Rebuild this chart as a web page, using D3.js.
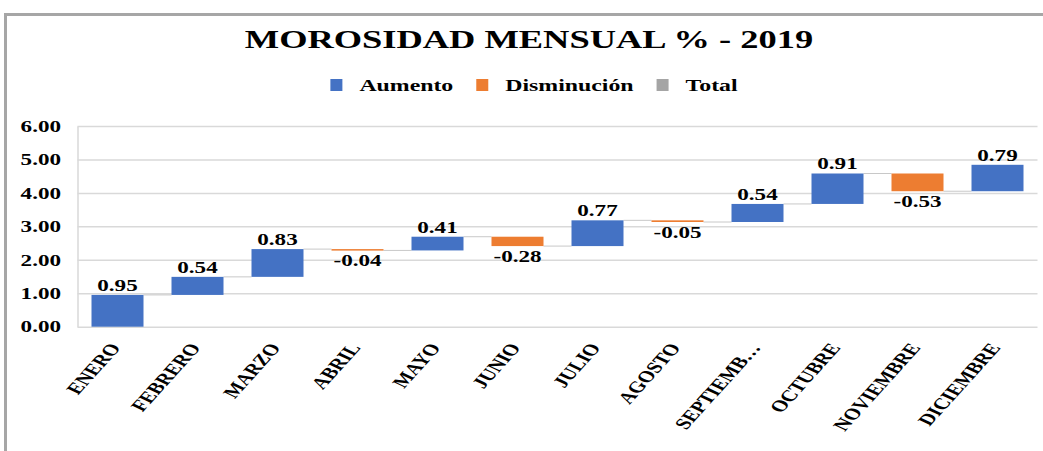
<!DOCTYPE html>
<html>
<head>
<meta charset="utf-8">
<script src="https://cdn.jsdelivr.net/npm/d3@7"></script>
<style>
  body { margin: 0; background: #fff; }
</style>
</head>
<body>
<div id="chart"></div>
<script>
// datos del grafico
var months = ['ENERO', 'FEBRERO', 'MARZO', 'ABRIL', 'MAYO', 'JUNIO', 'JULIO', 'AGOSTO', 'SEPTIEMB\u2026', 'OCTUBRE', 'NOVIEMBRE', 'DICIEMBRE'];
var changes = [0.95, 0.54, 0.83, -0.04, 0.41, -0.28, 0.77, -0.05, 0.54, 0.91, -0.53, 0.79];
var yTicks = [0, 1, 2, 3, 4, 5, 6];
var legendNames = ['Aumento', 'Disminución', 'Total'];
var legendColors = ['#4472C4', '#ED7D31', '#A5A5A5'];
var title = 'MOROSIDAD MENSUAL % - 2019';

var width = 1043;
var height = 451;
var font = '"Liberation Serif"';

// la imagen original esta estirada horizontalmente
var sx = 1.4;

// area del grafico (en pixeles de salida)
var plot = { left: 77.5, right: 1037.5, top: 126, bottom: 326.7 };

var fmt = function(v) {
  return d3.format('.2f')(v).replace('\u2212', '-');
};

// texto en negrita, estirado con textLength (sin transform)
function serif(sel, size) {
  sel
    .style('font-family', font)
    .style('font-weight', 'bold')
    .style('font-size', size + 'px')
    .style('fill', '#000');
  sel.each(function() {
    var w = this.getComputedTextLength();
    d3.select(this)
      .attr('textLength', w * sx)
      .attr('lengthAdjust', 'spacingAndGlyphs');
  });
  return sel;
}

// acumulado de la cascada
var running = 0;
var steps = changes.map(function(d, i) {
  var s = { month: months[i], start: running, end: running + d, value: d };
  running += d;
  return s;
});

var svg = d3.select('#chart').append('svg')
  .attr('width', width)
  .attr('height', height);

// borde
svg.append('path')
  .attr('d', 'M5.5,' + height + 'L5.5,14.5L' + width + ',14.5')
  .attr('fill', 'none')
  .attr('stroke', '#a6a6a6')
  .attr('stroke-width', 3);

var x = d3.scaleBand()
  .domain(months)
  .range([plot.left, plot.right])
  .paddingInner(0.35)
  .paddingOuter(0.175);

var y = d3.scaleLinear()
  .domain([0, 6])
  .range([plot.bottom, plot.top]);

var pw = plot.right - plot.left;

var base = svg.append('g').attr('transform', 'translate(' + plot.left + ',0)');

// eje y + grilla
var yaxis = d3.axisLeft(y)
  .tickValues(yTicks)
  .tickSize(-pw)
  .tickSizeOuter(0)
  .tickPadding(16.5)
  .tickFormat(fmt);

var yg = base.append('g').call(yaxis);
yg.select('.domain').attr('stroke', '#d9d9d9').attr('stroke-width', 1.5);
yg.selectAll('.tick line').attr('stroke', '#d9d9d9').attr('stroke-width', 1.5);
serif(yg.selectAll('.tick text'), 16.5);

// conectores
svg.append('g').selectAll('line')
  .data(steps.slice(0, steps.length - 1))
  .enter()
  .append('line')
  .attr('x1', function(d) { return x(d.month) + x.bandwidth(); })
  .attr('x2', function(d, i) { return x(months[i + 1]); })
  .attr('y1', function(d) { return y(d.end); })
  .attr('y2', function(d) { return y(d.end); })
  .attr('stroke', '#c8c8c8')
  .attr('stroke-width', 1);

// barras
svg.append('g').selectAll('rect')
  .data(steps)
  .enter()
  .append('rect')
  .attr('x', function(d) { return x(d.month); })
  .attr('width', x.bandwidth())
  .attr('y', function(d) { return y(Math.max(d.start, d.end)); })
  .attr('height', function(d) { return Math.max(1.5, Math.abs(y(d.start) - y(d.end))); })
  .attr('fill', function(d) { return d.value >= 0 ? legendColors[0] : legendColors[1]; });

// etiquetas de datos
var labels = svg.append('g').selectAll('text')
  .data(steps)
  .enter()
  .append('text')
  .attr('x', function(d) { return x(d.month) + x.bandwidth() / 2; })
  .attr('y', function(d) { return d.value >= 0 ? y(d.end) - 4 : y(d.end) + 16; })
  .attr('text-anchor', 'middle')
  .text(function(d) { return fmt(d.value); });
serif(labels, 16.5);

// eje x (etiquetas giradas y estiradas)
var xaxis = d3.axisBottom(x).tickSize(0).tickPadding(0);
var xg = svg.append('g')
  .attr('transform', 'translate(0,' + plot.bottom + ')')
  .call(xaxis);
xg.select('.domain').remove();
xg.selectAll('.tick text')
  .attr('text-anchor', 'end')
  .attr('y', 0)
  .attr('dy', 0)
  .style('font-family', font)
  .style('font-weight', 'bold')
  .style('font-size', '16px')
  .style('fill', '#000')
  .attr('transform', 'translate(4,21) matrix(' + [0.545 * sx, -0.839, 0.839 * sx, 0.545, 0, 0].join(',') + ')');

// titulo
var titleText = svg.append('text')
  .attr('x', 529)
  .attr('y', 47.5)
  .attr('text-anchor', 'middle')
  .text(title);
serif(titleText, 26);

// leyenda
var legend = svg.append('g');
var lx = 0;
legendNames.forEach(function(name, i) {
  var item = legend.append('g').attr('transform', 'translate(' + lx + ',0)');
  item.append('rect')
    .attr('x', 0)
    .attr('y', 79)
    .attr('width', 12)
    .attr('height', 12)
    .attr('fill', legendColors[i]);
  var t = item.append('text')
    .attr('x', 29)
    .attr('y', 85)
    .attr('dy', '0.35em')
    .text(name);
  serif(t, 17);
  lx += 29 + (+t.attr('textLength')) + 23;
});
var legendW = lx - 23;
legend.attr('transform', 'translate(' + (534 - legendW / 2) + ',0)');
</script>
</body>
</html>
